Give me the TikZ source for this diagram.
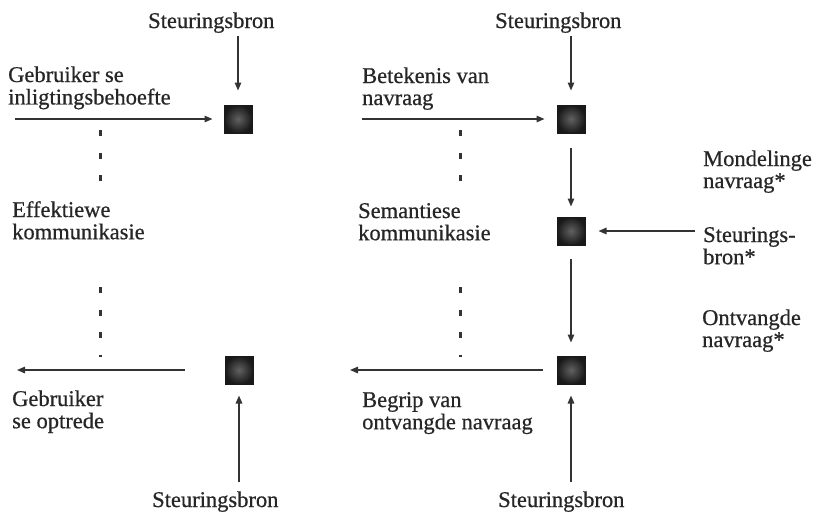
\documentclass[tikz,border=0pt]{standalone}
\usepackage{fontspec}
\setmainfont{Liberation Serif}[FakeBold=0.6]
\usetikzlibrary{arrows.meta}
\definecolor{ink}{HTML}{262626}
\definecolor{lineink}{HTML}{333333}
\newcommand{\twolines}[2]{\begin{tabular}[t]{@{}l@{}}#1\\#2\end{tabular}}
\begin{document}
\begin{tikzpicture}[x=1pt,y=-1pt,
  lbl/.style={anchor=base west,inner sep=0pt,text=ink,font=\fontsize{22.5}{22}\selectfont},
  blk/.style={draw=black!90,line width=1pt,minimum size=28pt,inner sep=0pt,shading=radial,inner color=black!62,outer color=black!90},
  arr/.style={draw=lineink,line width=1.4pt,-{Triangle[length=8pt,width=6.5pt]}},
  dots/.style={draw=lineink,line width=3pt,dash pattern=on 6pt off 16.5pt}]
\useasboundingbox (0,0) rectangle (814,523);
% left column labels
\node[lbl] (stA) at (148,28) {Steuringsbron};
\node[lbl] (gib) at (8,82) {\twolines{Gebruiker se}{inligtingsbehoefte}};
\node[lbl] (ek) at (12,217) {\twolines{Effektiewe}{kommunikasie}};
\node[lbl] (go) at (12,406) {\twolines{Gebruiker}{se optrede}};
\node[lbl] (stB) at (152,507) {Steuringsbron};
% right column labels
\node[lbl] (stC) at (495,28) {Steuringsbron};
\node[lbl] (bvn) at (362,83) {\twolines{Betekenis van}{navraag}};
\node[lbl] (sk) at (358,218) {\twolines{Semantiese}{kommunikasie}};
\node[lbl] (bon) at (362,407) {\twolines{Begrip van}{ontvangde navraag}};
\node[lbl] (stD) at (498,507) {Steuringsbron};
\node[lbl] (mn) at (703,166) {\twolines{Mondelinge}{navraag*}};
\node[lbl] (sb) at (703,242) {\twolines{Steurings-}{bron*}};
\node[lbl] (on) at (702,325) {\twolines{Ontvangde}{navraag*}};
% blocks
\node[blk] (sqA) at (238,119) {};
\node[blk] (sqB) at (239,370) {};
\node[blk] (sqC) at (571,119) {};
\node[blk] (sqD) at (571,231) {};
\node[blk] (sqE) at (571,370) {};
% free ends
\coordinate (a1) at (238,36);
\coordinate (a2) at (15,119);
\coordinate (a3) at (17,370);
\coordinate (a4) at (239,482);
\coordinate (c1) at (571,36);
\coordinate (c2) at (362,119);
\coordinate (c3) at (695,231);
\coordinate (c4) at (350,370);
\coordinate (c5) at (571,482);
% connectors
\draw[arr,shorten >=14pt] (a1) -- (sqA);
\draw[arr,shorten >=11pt] (a2) -- (sqA);
\draw[arr,shorten <=40pt] (sqB) -- (a3);
\draw[arr,shorten >=11pt] (a4) -- (sqB);
\draw[arr,shorten >=14pt] (c1) -- (sqC);
\draw[arr,shorten >=12pt] (c2) -- (sqC);
\draw[arr,shorten <=14pt,shorten >=10pt] (sqC) -- (sqD);
\draw[arr,shorten >=13pt] (c3) -- (sqD);
\draw[arr,shorten <=13pt,shorten >=13pt] (sqD) -- (sqE);
\draw[arr,shorten <=14pt] (sqE) -- (c4);
\draw[arr,shorten >=11pt] (c5) -- (sqE);
% dotted separators
\coordinate (d1) at (100,130); \coordinate (d2) at (100,185);
\coordinate (d3) at (100,287); \coordinate (d4) at (100,357);
\coordinate (e1) at (460,130); \coordinate (e2) at (460,185);
\coordinate (e3) at (460,287); \coordinate (e4) at (460,357);
\draw[dots] (d1) -- (d2);
\draw[dots] (d3) -- (d4);
\draw[dots] (e1) -- (e2);
\draw[dots] (e3) -- (e4);
\end{tikzpicture}
\end{document}
